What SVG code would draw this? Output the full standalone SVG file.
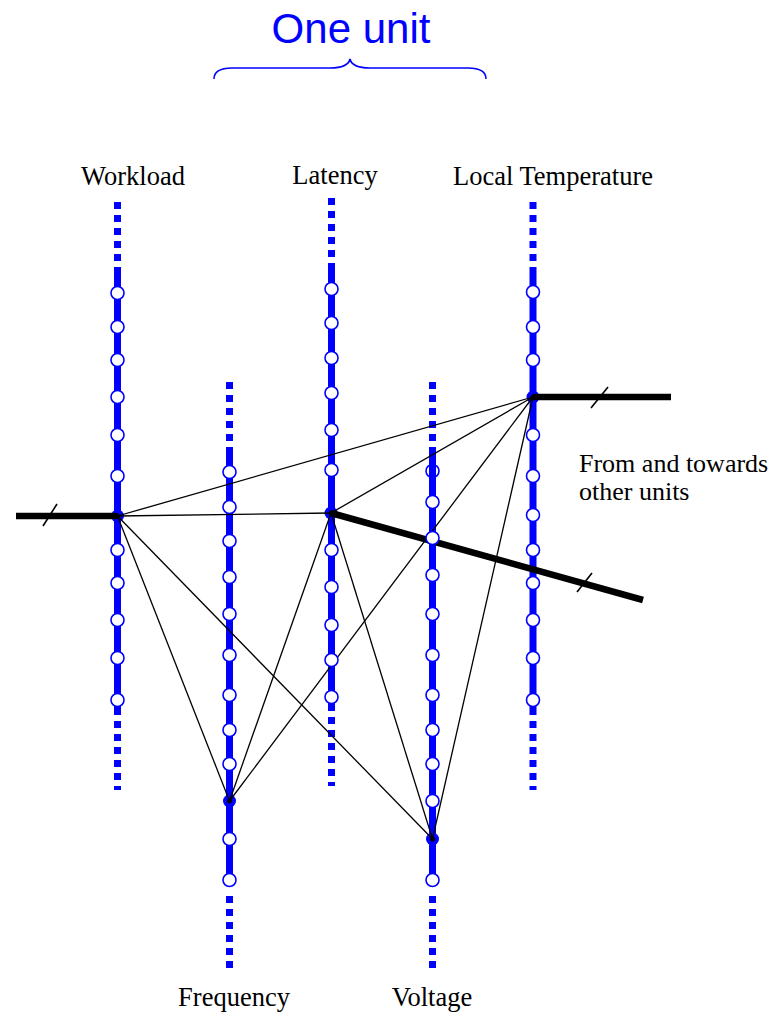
<svg xmlns="http://www.w3.org/2000/svg" width="773" height="1013" viewBox="0 0 773 1013">
  <style>
    .dots { stroke: #0000ff; stroke-width: 7; stroke-dasharray: 7 6; fill: none; }
    .axis { stroke: #0000ff; stroke-width: 7; fill: none; }
    .lvl { fill: #ffffff; stroke: #0000ff; stroke-width: 1.6; }
    .node { fill: #0000ff; }
    .hub { fill: #000000; }
    .edge { stroke: #000000; stroke-width: 1.3; fill: none; }
    .link { stroke: #000000; stroke-width: 6.5; fill: none; }
    .tick { stroke: #000000; stroke-width: 1.6; fill: none; }
    .lbl { font-family: "Liberation Serif", "Times New Roman", serif; font-size: 26.5px; fill: #000000; }
    .note { font-family: "Liberation Serif", "Times New Roman", serif; font-size: 26px; fill: #000000; }
    .title { font-family: "Liberation Sans", Arial, sans-serif; font-size: 42px; fill: #0000ff; }
  </style>

  <!-- title and brace -->
  <g id="title">
    <text class="title" x="351" y="43" text-anchor="middle">One unit</text>
    <path d="M214,79 Q214,68 232,68 L330,68 Q348,68 350,59 Q352,68 370,68 L468,68 Q486,68 486,79" fill="none" stroke="#0000ff" stroke-width="1.6"/>
  </g>

  <!-- variable axes -->
  <g id="axis-workload">
    <line class="dots" x1="117.5" y1="202" x2="117.5" y2="272"/>
    <line class="axis" x1="117.5" y1="272" x2="117.5" y2="715"/>
    <line class="dots" x1="117.5" y1="721" x2="117.5" y2="790"/>
    <text class="lbl" x="133" y="185" text-anchor="middle">Workload</text>
  </g>
  <g id="axis-latency">
    <line class="dots" x1="331.5" y1="198" x2="331.5" y2="268"/>
    <line class="axis" x1="331.5" y1="268" x2="331.5" y2="711"/>
    <line class="dots" x1="331.5" y1="717" x2="331.5" y2="786"/>
    <text class="lbl" x="335" y="184" text-anchor="middle">Latency</text>
  </g>
  <g id="axis-temperature">
    <line class="dots" x1="533" y1="202" x2="533" y2="272"/>
    <line class="axis" x1="533" y1="272" x2="533" y2="715"/>
    <line class="dots" x1="533" y1="721" x2="533" y2="790"/>
    <text class="lbl" x="553" y="185" text-anchor="middle">Local Temperature</text>
  </g>
  <g id="axis-frequency">
    <line class="dots" x1="229.5" y1="382" x2="229.5" y2="448"/>
    <line class="axis" x1="229.5" y1="448" x2="229.5" y2="886"/>
    <line class="dots" x1="229.5" y1="896" x2="229.5" y2="970"/>
    <text class="lbl" x="234" y="1006" text-anchor="middle">Frequency</text>
  </g>
  <g id="axis-voltage">
    <line class="dots" x1="432.5" y1="382" x2="432.5" y2="448"/>
    <line class="axis" x1="432.5" y1="448" x2="432.5" y2="886"/>
    <line class="dots" x1="432.5" y1="896" x2="432.5" y2="970"/>
    <text class="lbl" x="432" y="1006" text-anchor="middle">Voltage</text>
  </g>

  <!-- selected values (blue disks under the connectors) -->
  <g id="nodes">
    <circle class="node" cx="117.5" cy="516" r="6.5"/>
    <circle class="node" cx="331" cy="513" r="6.5"/>
    <circle class="node" cx="533" cy="397" r="6.5"/>
    <circle class="node" cx="229.5" cy="801" r="6.5"/>
    <circle class="node" cx="432.5" cy="839" r="6.5"/>
  </g>

  <!-- connectors -->
  <g id="connectors">
    <line class="link" x1="16" y1="516" x2="117.5" y2="516"/>
    <line class="tick" x1="43" y1="526" x2="57" y2="504"/>
    <line class="link" x1="533" y1="397" x2="671" y2="397"/>
    <line class="tick" x1="591" y1="408" x2="608" y2="387"/>
    <line class="link" x1="331" y1="513" x2="643" y2="600"/>
    <line class="tick" x1="577" y1="592" x2="592" y2="573"/>

    <line class="edge" x1="117.5" y1="516" x2="331" y2="513"/>
    <line class="edge" x1="117.5" y1="516" x2="533" y2="397"/>
    <line class="edge" x1="117.5" y1="516" x2="229.5" y2="801"/>
    <line class="edge" x1="117.5" y1="516" x2="432.5" y2="839"/>
    <line class="edge" x1="331" y1="513" x2="533" y2="397"/>
    <line class="edge" x1="331" y1="513" x2="229.5" y2="801"/>
    <line class="edge" x1="331" y1="513" x2="432.5" y2="839"/>
    <line class="edge" x1="533" y1="397" x2="229.5" y2="801"/>
    <line class="edge" x1="533" y1="397" x2="432.5" y2="839"/>
  </g>

  <!-- discrete levels on each axis -->
  <g id="levels">
    <circle class="lvl" cx="117.5" cy="293" r="6.5"/>
    <circle class="lvl" cx="117.5" cy="327" r="6.5"/>
    <circle class="lvl" cx="117.5" cy="360" r="6.5"/>
    <circle class="lvl" cx="117.5" cy="397" r="6.5"/>
    <circle class="lvl" cx="117.5" cy="435" r="6.5"/>
    <circle class="lvl" cx="117.5" cy="476" r="6.5"/>
    <circle class="lvl" cx="117.5" cy="550" r="6.5"/>
    <circle class="lvl" cx="117.5" cy="583" r="6.5"/>
    <circle class="lvl" cx="117.5" cy="620" r="6.5"/>
    <circle class="lvl" cx="117.5" cy="658" r="6.5"/>
    <circle class="lvl" cx="117.5" cy="700" r="6.5"/>

    <circle class="lvl" cx="331.5" cy="289" r="6.5"/>
    <circle class="lvl" cx="331.5" cy="323" r="6.5"/>
    <circle class="lvl" cx="331.5" cy="358" r="6.5"/>
    <circle class="lvl" cx="331.5" cy="393" r="6.5"/>
    <circle class="lvl" cx="331.5" cy="430" r="6.5"/>
    <circle class="lvl" cx="331.5" cy="470" r="6.5"/>
    <circle class="lvl" cx="331.5" cy="550" r="6.5"/>
    <circle class="lvl" cx="331.5" cy="587" r="6.5"/>
    <circle class="lvl" cx="331.5" cy="625" r="6.5"/>
    <circle class="lvl" cx="331.5" cy="660" r="6.5"/>
    <circle class="lvl" cx="331.5" cy="697" r="6.5"/>

    <circle class="lvl" cx="533" cy="292" r="6.5"/>
    <circle class="lvl" cx="533" cy="327" r="6.5"/>
    <circle class="lvl" cx="533" cy="360" r="6.5"/>
    <circle class="lvl" cx="533" cy="435" r="6.5"/>
    <circle class="lvl" cx="533" cy="476" r="6.5"/>
    <circle class="lvl" cx="533" cy="515" r="6.5"/>
    <circle class="lvl" cx="533" cy="550" r="6.5"/>
    <circle class="lvl" cx="533" cy="583" r="6.5"/>
    <circle class="lvl" cx="533" cy="620" r="6.5"/>
    <circle class="lvl" cx="533" cy="658" r="6.5"/>
    <circle class="lvl" cx="533" cy="700" r="6.5"/>

    <circle class="lvl" cx="229.5" cy="472" r="6.5"/>
    <circle class="lvl" cx="229.5" cy="507" r="6.5"/>
    <circle class="lvl" cx="229.5" cy="541" r="6.5"/>
    <circle class="lvl" cx="229.5" cy="577" r="6.5"/>
    <circle class="lvl" cx="229.5" cy="614" r="6.5"/>
    <circle class="lvl" cx="229.5" cy="655" r="6.5"/>
    <circle class="lvl" cx="229.5" cy="695" r="6.5"/>
    <circle class="lvl" cx="229.5" cy="730" r="6.5"/>
    <circle class="lvl" cx="229.5" cy="764" r="6.5"/>
    <circle class="lvl" cx="229.5" cy="839" r="6.5"/>
    <circle class="lvl" cx="229.5" cy="880" r="6.5"/>

    <circle cx="432.5" cy="471" r="6.5" fill="none" stroke="#0000ff" stroke-width="1.6"/>
    <circle class="lvl" cx="432.5" cy="502" r="6.5"/>
    <circle class="lvl" cx="432.5" cy="538" r="6.5"/>
    <circle class="lvl" cx="432.5" cy="575" r="6.5"/>
    <circle class="lvl" cx="432.5" cy="614" r="6.5"/>
    <circle class="lvl" cx="432.5" cy="655" r="6.5"/>
    <circle class="lvl" cx="432.5" cy="695" r="6.5"/>
    <circle class="lvl" cx="432.5" cy="730" r="6.5"/>
    <circle class="lvl" cx="432.5" cy="764" r="6.5"/>
    <circle class="lvl" cx="432.5" cy="801" r="6.5"/>
    <circle class="lvl" cx="432.5" cy="880" r="6.5"/>
  </g>

  <!-- convergence points of the connectors -->
  <g id="hubs">
    <circle class="hub" cx="117.5" cy="516" r="2.5"/>
    <circle class="hub" cx="331" cy="513" r="2.5"/>
    <circle class="hub" cx="533" cy="397" r="2.5"/>
    <circle class="hub" cx="229.5" cy="801" r="2.5"/>
    <circle class="hub" cx="432.5" cy="839" r="2.5"/>
  </g>

  <g id="note">
    <text class="note" x="579" y="472">From and towards</text>
    <text class="note" x="579" y="500">other units</text>
  </g>
</svg>
